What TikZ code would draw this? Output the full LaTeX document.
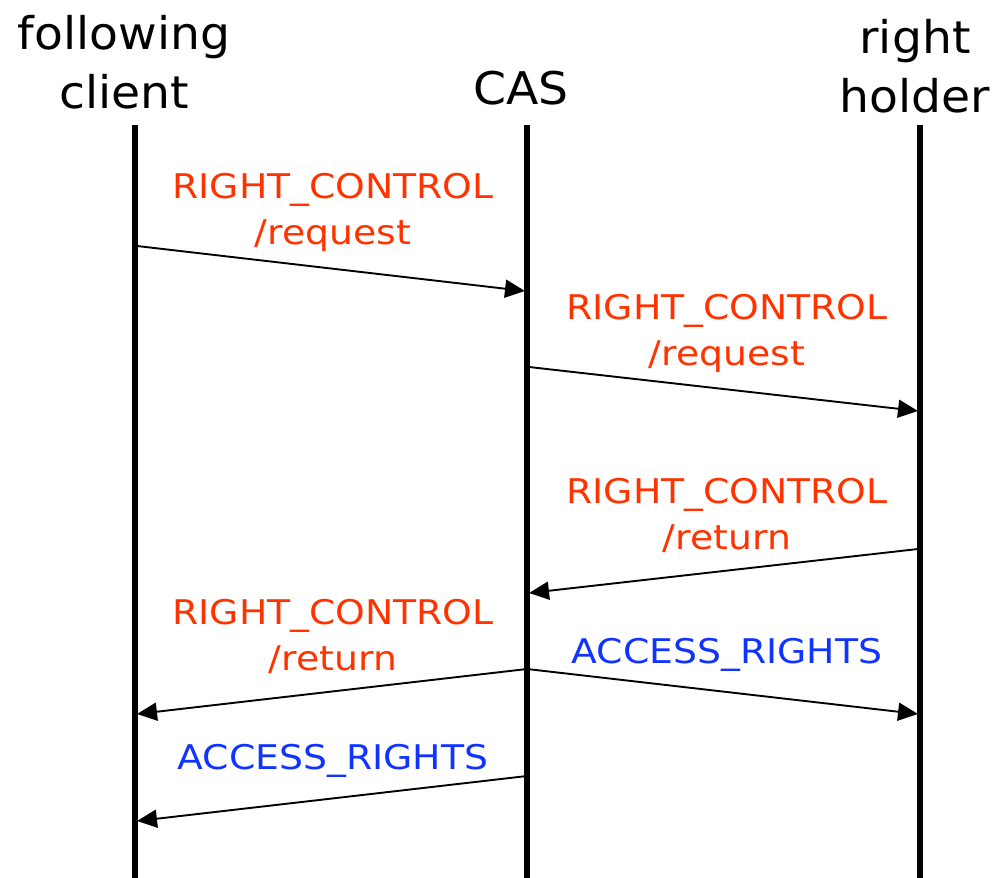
\documentclass[tikz,border=0pt]{standalone}
\usepackage{fontspec}
\setmainfont{DejaVu Sans}
\newfontfamily\labfont[FakeStretch=1.11]{DejaVu Sans}
\newfontfamily\titfont[FakeStretch=1.05]{DejaVu Sans}
\usetikzlibrary{arrows.meta}
\definecolor{msgred}{RGB}{255,51,0}
\definecolor{msgblue}{RGB}{17,51,255}
\tikzset{
  lifeline/.style={line width=5.5pt},
  msg/.style={line width=1.9pt,-{Triangle[length=20pt,width=18pt]}},
  title/.style={font=\titfont\fontsize{45}{59}\selectfont,align=center,inner sep=0pt},
  lab/.style={font=\labfont\fontsize{34}{46}\selectfont,align=center,inner sep=0pt},
}
\begin{document}
\begin{tikzpicture}[x=1pt,y=-1pt]
\useasboundingbox (0,0) rectangle (997,878);
% lifelines
\coordinate (fcTop) at (135,125); \coordinate (fcBot) at (135,878);
\coordinate (casTop) at (527,125); \coordinate (casBot) at (527,878);
\coordinate (rhTop) at (920,125); \coordinate (rhBot) at (920,878);
\draw[lifeline] (fcTop) -- (fcBot);
\draw[lifeline] (casTop) -- (casBot);
\draw[lifeline] (rhTop) -- (rhBot);
% titles
\node[title] (tfc) at (124,62) {following\\client};
\node[title] (tcas) at (521,88) {CAS};
\node[title] (trh) at (915,66) {right\\holder};
% message end points
\coordinate (m1a) at (137,246); \coordinate (m1b) at (525,291);
\coordinate (m2a) at (529,367); \coordinate (m2b) at (918,411);
\coordinate (m3a) at (918,549); \coordinate (m3b) at (529,593);
\coordinate (m4a) at (527,669); \coordinate (m4b) at (137,714);
\coordinate (m5a) at (527,669); \coordinate (m5b) at (918,714);
\coordinate (m6a) at (527,776); \coordinate (m6b) at (137,821);
\draw[msg] (m1a) -- (m1b);
\draw[msg] (m2a) -- (m2b);
\draw[msg] (m3a) -- (m3b);
\draw[msg] (m4a) -- (m4b);
\draw[msg] (m5a) -- (m5b);
\draw[msg] (m6a) -- (m6b);
% labels
\node[lab,text=msgred] (l1) at (333,212) {RIGHT\_CONTROL\\/request};
\node[lab,text=msgred] (l2) at (727,333) {RIGHT\_CONTROL\\/request};
\node[lab,text=msgred] (l3) at (727,515) {RIGHT\_CONTROL\\/return};
\node[lab,text=msgred] (l4) at (333,636) {RIGHT\_CONTROL\\/return};
\node[lab,text=msgblue] (l5) at (727,655) {ACCESS\_RIGHTS};
\node[lab,text=msgblue] (l6) at (333,761) {ACCESS\_RIGHTS};
\end{tikzpicture}
\end{document}
